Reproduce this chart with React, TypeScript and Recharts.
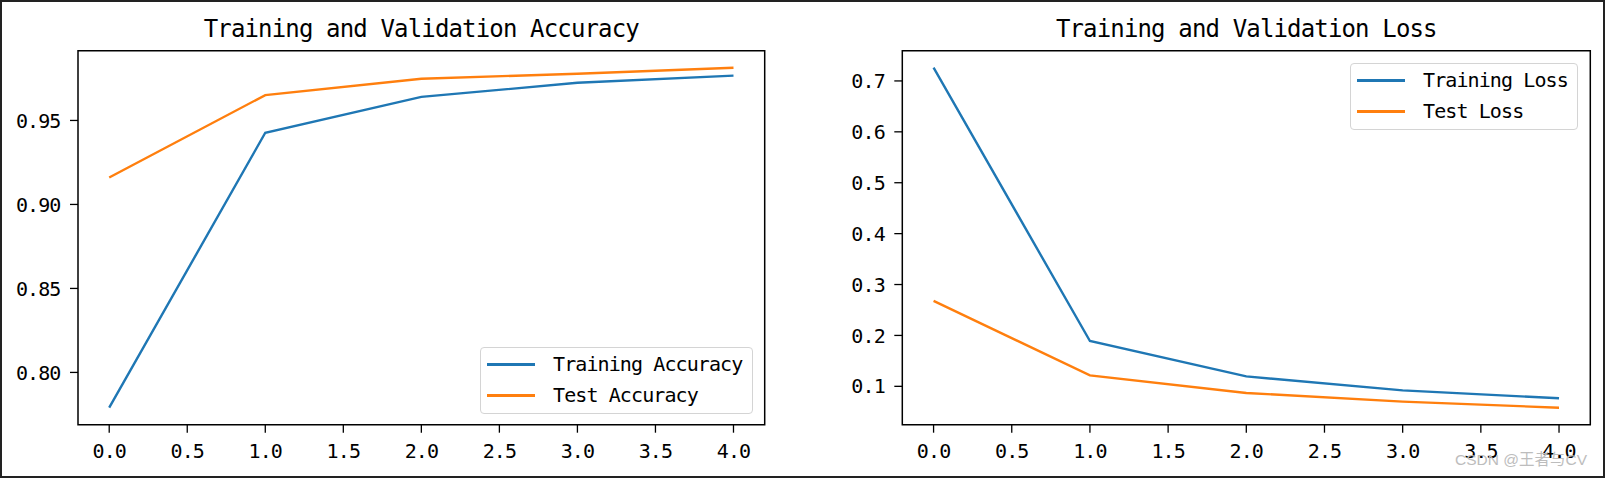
import React from "react";
import {
  LineChart, Line, XAxis, YAxis, ReferenceArea, Legend,
} from "recharts";

// values
const epochs = [0, 1, 2, 3, 4];
const trainAcc = [0.779, 0.9427, 0.964, 0.9724, 0.9767];
const testAcc = [0.916, 0.9651, 0.9748, 0.9778, 0.9814];
const trainLoss = [0.726, 0.189, 0.1195, 0.092, 0.0766];
const testLoss = [0.268, 0.1214, 0.087, 0.07, 0.058];

const xTicks = [0, 0.5, 1, 1.5, 2, 2.5, 3, 3.5, 4];
const accTicks = [0.8, 0.85, 0.9, 0.95];
const lossTicks = [0.1, 0.2, 0.3, 0.4, 0.5, 0.6, 0.7];

const accTitle = "Training and Validation Accuracy";
const lossTitle = "Training and Validation Loss";
const accNames = ["Training Accuracy", "Test Accuracy"];
const lossNames = ["Training Loss", "Test Loss"];

const BLUE = "#1f77b4";
const ORANGE = "#ff7f0e";
const FONT = '"DejaVu Sans Mono", monospace';

const accData = epochs.map((e, i) => ({ epoch: e, train: trainAcc[i], test: testAcc[i] }));
const lossData = epochs.map((e, i) => ({ epoch: e, train: trainLoss[i], test: testLoss[i] }));

// matplotlib style 5% margins
function pad(vals: number[]): [number, number] {
  const lo = Math.min(...vals), hi = Math.max(...vals);
  const m = (hi - lo) * 0.05;
  return [lo - m, hi + m];
}
const xDom: [number, number] = pad(epochs);
const accDom = pad([...trainAcc, ...testAcc]);
const lossDom = pad([...trainLoss, ...testLoss]);

const tickStyle = { fill: "#000", fontSize: 20, fontFamily: FONT, letterSpacing: -0.9 };
const tickLine = { stroke: "#000", strokeWidth: 1.3 };

function LegendBox({ payload, w, names }: { payload?: any[]; w: number; names: string[] }) {
  // keep the series order (recharts sorts legend items by name)
  const items = names.map((n) => (payload || []).find((p) => p.value === n)).filter(Boolean);
  return (
    <div style={{
      width: w, height: 67, border: "1px solid #d4d4d4", borderRadius: 4,
      background: "rgba(255,255,255,0.8)", boxSizing: "border-box", position: "relative",
      fontFamily: FONT, fontSize: 20, letterSpacing: -0.9, color: "#000",
    }}>
      {items.map((p: any, i) => (
        <div key={i} style={{ position: "absolute", left: 0, top: 1 + i * 31, height: 30, width: "100%" }}>
          <span style={{ position: "absolute", left: 6, top: 14, width: 48, height: 3, background: p.color }} />
          <span style={{ position: "absolute", left: 72, top: 0, lineHeight: "30px", whiteSpace: "nowrap" }}>{p.value}</span>
        </div>
      ))}
    </div>
  );
}

interface PanelProps {
  data: { epoch: number; train: number; test: number }[];
  names: string[];
  yDom: [number, number];
  yTicks: number[];
  digits: number;
  yWidth: number;
  right: number;
  legend: { left: number; top: number; w: number };
}

function Panel({ data, names, yDom, yTicks, digits, yWidth, right, legend }: PanelProps) {
  return (
    <LineChart width={800} height={478} data={data}
      margin={{ top: 50.7, right, left: 0, bottom: 0 }}>
      <XAxis dataKey="epoch" type="number" domain={xDom} ticks={xTicks} allowDataOverflow
        tickFormatter={(v) => v.toFixed(1)} height={53.3} axisLine={false}
        tickSize={8} tickMargin={11} tick={tickStyle} tickLine={tickLine} interval={0} />
      <YAxis type="number" domain={yDom} ticks={yTicks} allowDataOverflow
        tickFormatter={(v) => v.toFixed(digits)} width={yWidth} axisLine={false}
        tickSize={8} tickMargin={9.5} tick={tickStyle} tickLine={tickLine} interval={0} />
      <ReferenceArea x1={xDom[0]} x2={xDom[1]} y1={yDom[0]} y2={yDom[1]}
        fill="none" fillOpacity={0} stroke="#000" strokeWidth={1.5} />
      <Line type="linear" dataKey="train" name={names[0]} stroke={BLUE} strokeWidth={2.4}
        dot={false} isAnimationActive={false} />
      <Line type="linear" dataKey="test" name={names[1]} stroke={ORANGE} strokeWidth={2.4}
        dot={false} isAnimationActive={false} />
      <Legend layout="horizontal" verticalAlign="middle" align="center"
        width={legend.w} height={67}
        wrapperStyle={{ left: legend.left, top: legend.top, width: legend.w, height: 67 }}
        content={(props: any) => <LegendBox payload={props.payload} w={legend.w} names={names} />} />
    </LineChart>
  );
}

export default function App() {
  return (
    <div style={{
      position: "absolute", left: 0, top: 0, width: 1605, height: 478,
      background: "#fff", border: "2px solid #222", boxSizing: "border-box", overflow: "hidden",
    }}>
      <div style={{ position: "absolute", left: -2, top: -2 }}>
        <Panel data={accData} names={accNames} yDom={accDom} yTicks={accTicks} digits={2}
          yWidth={78} right={35.3} legend={{ left: 480, top: 346.7, w: 273 }} />
      </div>
      <div style={{ position: "absolute", left: 803, top: -2 }}>
        <Panel data={lossData} names={lossNames} yDom={lossDom} yTicks={lossTicks} digits={1}
          yWidth={97.3} right={14.7} legend={{ left: 545, top: 62.7, w: 228 }} />
      </div>
      <svg width={1605} height={478} style={{ position: "absolute", left: -2, top: -2, pointerEvents: "none" }}>
        <text x={421.3} y={36.5} textAnchor="middle" fontFamily={FONT} fontSize={24}
          letterSpacing={-0.85} fill="#000">{accTitle}</text>
        <text x={1246.3} y={36.5} textAnchor="middle" fontFamily={FONT} fontSize={24}
          letterSpacing={-0.85} fill="#000">{lossTitle}</text>
        <text x={1587} y={465} textAnchor="end" fontFamily='"Liberation Sans", "Noto Sans CJK SC", sans-serif'
          fontSize={15.5} fill="#bdbdbd">CSDN @王者与CV</text>
      </svg>
    </div>
  );
}
